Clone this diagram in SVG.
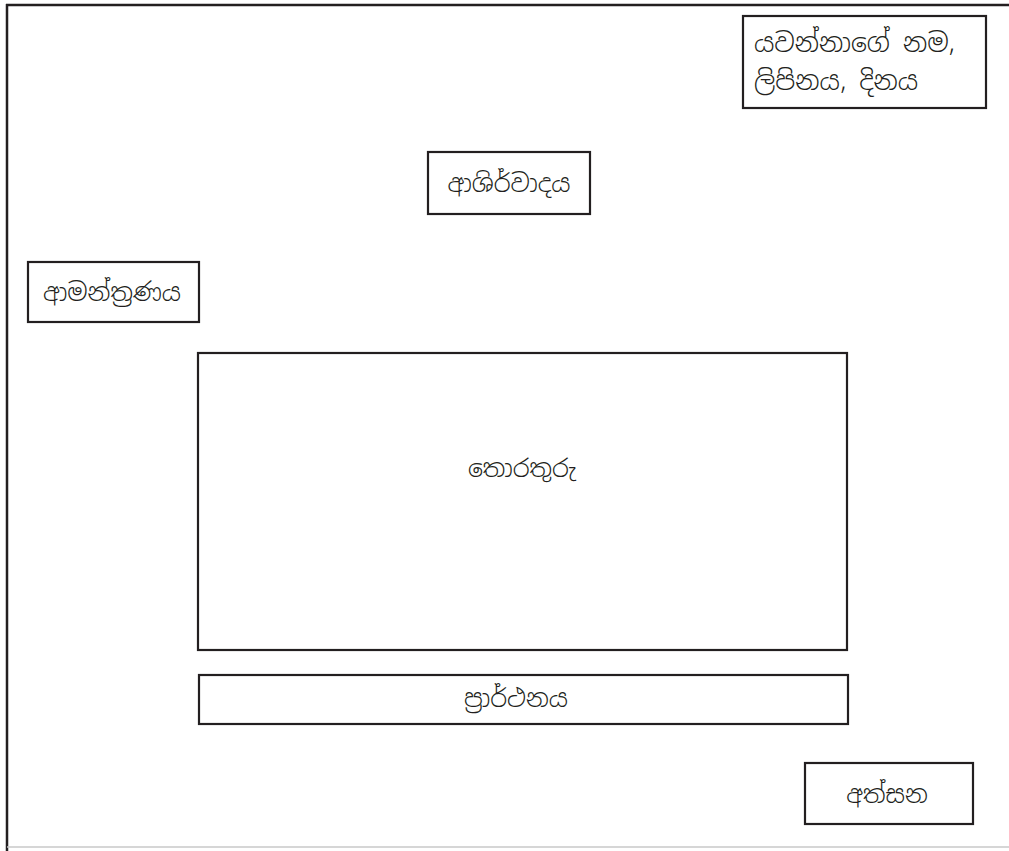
<svg xmlns="http://www.w3.org/2000/svg" width="1009" height="851" viewBox="0 0 1009 851">
<style>
.box{fill:#fff;stroke:#231f20;stroke-width:2.2}
.t{font-family:"Noto Sans Sinhala","Noto Serif Sinhala","Noto Sans","DejaVu Sans",sans-serif;font-size:24.5px;font-weight:300;fill:#231f20;text-anchor:middle}
.l{text-anchor:start;font-size:26px}
</style>
<rect width="1009" height="851" fill="#fff"/>
<g id="frame">
<line x1="6" y1="5" x2="1009" y2="5" stroke="#231f20" stroke-width="2.5"/>
<line x1="7" y1="4" x2="7" y2="851" stroke="#231f20" stroke-width="2.5"/>
<line x1="7" y1="847" x2="1009" y2="847" stroke="#c8c8c8" stroke-width="1.5"/>
</g>
<g id="connectors"></g>
<g id="sender">
<rect class="box" x="743" y="16" width="243" height="92"/>
<text class="t l" x="754" y="52">යවන්නාගේ නම,</text>
<text class="t l" x="754" y="90">ලිපිනය, දිනය</text>
</g>
<g id="blessing">
<rect class="box" x="428" y="152" width="162" height="62"/>
<text class="t" x="509" y="192">ආශිර්වාදය</text>
</g>
<g id="salutation">
<rect class="box" x="28" y="262" width="171" height="60"/>
<text class="t" x="112" y="301">ආමන්ත්‍රණය</text>
</g>
<g id="body">
<rect class="box" x="198" y="353" width="649" height="297"/>
<text class="t" x="522" y="477">තොරතුරු</text>
</g>
<g id="wish">
<rect class="box" x="199" y="675" width="649" height="49"/>
<text class="t" x="516" y="707">ප්‍රාර්ථනය</text>
</g>
<g id="signature">
<rect class="box" x="805" y="763" width="168" height="61"/>
<text class="t" x="887" y="803">අත්සන</text>
</g>
</svg>
